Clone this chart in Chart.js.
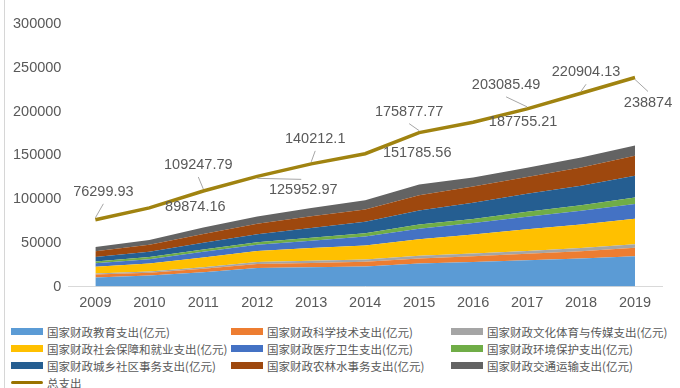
<!DOCTYPE html>
<html>
<head>
<meta charset="utf-8">
<script src="https://cdn.jsdelivr.net/npm/chart.js@4.4.1/dist/chart.umd.min.js"></script>
<style>
  html, body { margin: 0; padding: 0; background: #fff; }
  #wrap { position: relative; width: 680px; height: 388px; overflow: hidden; }
  #wrap:before { content: ''; position: absolute; left: 4px; top: 0; bottom: 0; border-left: 1px solid #d6d6d6; }
  #legend {
    position: absolute; left: 11px; top: 323px;
    display: grid; grid-template-columns: 220px 220px 220px; grid-auto-rows: 17px;
    font: 11.5px "Noto Sans CJK SC", sans-serif; color: #595959;
  }
  #legend div { display: flex; align-items: center; white-space: nowrap; }
  #legend span.sw { display: inline-block; width: 32px; height: 7px; margin-right: 4px; }
  #legend span.ln { display: inline-block; width: 32px; height: 3px; margin-right: 4px; border-radius: 2px; }
</style>
</head>
<body>
<div id="wrap">
  <canvas id="chart" width="680" height="320"></canvas>
  <div id="legend"></div>
</div>
<script>
// 国家财政支出 2009-2019 (亿元)

const years = ['2009', '2010', '2011', '2012', '2013', '2014', '2015', '2016', '2017', '2018', '2019'];

const education   = [10438, 12550, 16497, 21242, 22002, 23042, 26272, 28073, 30153, 32169, 34797];
const science     = [3276, 3250, 3828, 4452, 5084, 5314, 5863, 6564, 7267, 8327, 9471];
const culture     = [1393, 1543, 1893, 2268, 2544, 2691, 3077, 3163, 3392, 3522, 3987];
const social      = [7607, 9131, 11109, 12586, 14491, 15969, 19019, 21591, 24612, 27012, 29379];
const health      = [3994, 4804, 6430, 7245, 8280, 10177, 11953, 13159, 14451, 15624, 16665];
const environment = [1934, 2442, 2641, 2963, 3435, 3816, 4803, 4735, 5617, 6298, 7390];
const community   = [5108, 5987, 7621, 9079, 11165, 12959, 15886, 18395, 20585, 22124, 24895];
const agriculture = [6720, 8130, 9938, 11974, 13350, 14174, 17380, 18587, 19089, 21086, 22863];
const transport   = [4647, 5488, 7498, 8196, 9349, 10400, 12356, 10499, 10674, 11283, 11818];
const total       = [76299.93, 89874.16, 109247.79, 125952.97, 140212.1, 151785.56, 175877.77, 187755.21, 203085.49, 220904.13, 238874];

const yTicks = [0, 50000, 100000, 150000, 200000, 250000, 300000];

const areaSeries = [
  ['国家财政教育支出(亿元)', education, '#5b9bd5'],
  ['国家财政科学技术支出(亿元)', science, '#ed7d31'],
  ['国家财政文化体育与传媒支出(亿元)', culture, '#a5a5a5'],
  ['国家财政社会保障和就业支出(亿元)', social, '#ffc000'],
  ['国家财政医疗卫生支出(亿元)', health, '#4472c4'],
  ['国家财政环境保护支出(亿元)', environment, '#70ad47'],
  ['国家财政城乡社区事务支出(亿元)', community, '#255e91'],
  ['国家财政农林水事务支出(亿元)', agriculture, '#9e480e'],
  ['国家财政交通运输支出(亿元)', transport, '#636363'],
];

const datasets = areaSeries.map(function (s, i) {
  return {
    label: s[0],
    data: s[1],
    backgroundColor: s[2],
    borderColor: s[2],
    borderWidth: 0,
    pointRadius: 0,
    fill: i === 0 ? 'origin' : '-1',
    stack: 'areas',
    order: 1,
    tension: 0,
  };
});
datasets.push({
  label: '总支出',
  data: total,
  borderColor: '#a08310',
  backgroundColor: '#a08310',
  borderWidth: 3.5,
  pointRadius: 0,
  fill: false,
  stack: 'total',
  order: 0,
  tension: 0,
});

// label placement for the total line: [dx, dy, leader]
const labelOffsets = [
  [8, -28, true], [46, -1, false], [-5, -26, true], [46, 14, true], [4, -25, true], [52, -1, false],
  [-10, -21, true], [50, 0, false], [-21, -24, true], [5, -21, true], [13, 25, true],
];

const totalLabels = {
  id: 'totalLabels',
  afterDatasetsDraw(chart) {
    const ctx = chart.ctx;
    const idx = chart.data.datasets.length - 1;
    const meta = chart.getDatasetMeta(idx);
    ctx.save();
    ctx.font = '14.5px "Liberation Sans", Arial, sans-serif';
    ctx.fillStyle = '#595959';
    ctx.textAlign = 'center';
    ctx.textBaseline = 'middle';
    meta.data.forEach(function (pt, i) {
      const o = labelOffsets[i];
      const cx = pt.x + o[0], cy = pt.y + o[1];
      if (o[2]) {
        const ey = cy + (o[1] < 0 ? 12 : -11);
        ctx.strokeStyle = '#a6a6a6';
        ctx.lineWidth = 1;
        ctx.beginPath();
        ctx.moveTo(pt.x, pt.y + (o[1] < 0 ? -2 : 2));
        ctx.lineTo(cx + (o[0] > 30 ? -2 : 0), ey);
        ctx.stroke();
      }
      ctx.fillText(String(chart.data.datasets[idx].data[i]), cx, cy);
    });
    ctx.restore();
  }
};

const chart = new Chart(document.getElementById('chart').getContext('2d'), {
  type: 'line',
  data: { labels: years, datasets: datasets },
  options: {
    responsive: false,
    animation: false,
    devicePixelRatio: 1,
    layout: { padding: { left: 6, right: 18, top: 24, bottom: 0 } },
    scales: {
      x: {
        offset: true,
        grid: { display: false, drawTicks: false },
        border: { display: true, color: '#d9d9d9', width: 1 },
        ticks: { color: '#595959', padding: 8, font: { size: 14.5, family: '"Liberation Sans", Arial, sans-serif' } }
      },
      y: {
        stacked: true,
        min: 0,
        max: 300000,
        afterBuildTicks: function (axis) { axis.ticks = yTicks.map(function (v) { return { value: v }; }); },
        grid: { display: false, drawTicks: false },
        border: { display: false },
        ticks: {
          color: '#595959', padding: 7, font: { size: 14.5, family: '"Liberation Sans", Arial, sans-serif' },
          callback: function (v) { return String(v); }
        }
      }
    },
    plugins: {
      legend: { display: false },
      tooltip: { enabled: false }
    }
  },
  plugins: [totalLabels]
});

// html legend in three columns
const legend = document.getElementById('legend');
chart.data.datasets.forEach(function (ds) {
  const item = document.createElement('div');
  const sw = document.createElement('span');
  sw.className = ds.stack === 'total' ? 'ln' : 'sw';
  sw.style.background = ds.stack === 'total' ? '#997300' : ds.backgroundColor;
  item.appendChild(sw);
  item.appendChild(document.createTextNode(ds.label));
  legend.appendChild(item);
});
</script>
</body>
</html>
